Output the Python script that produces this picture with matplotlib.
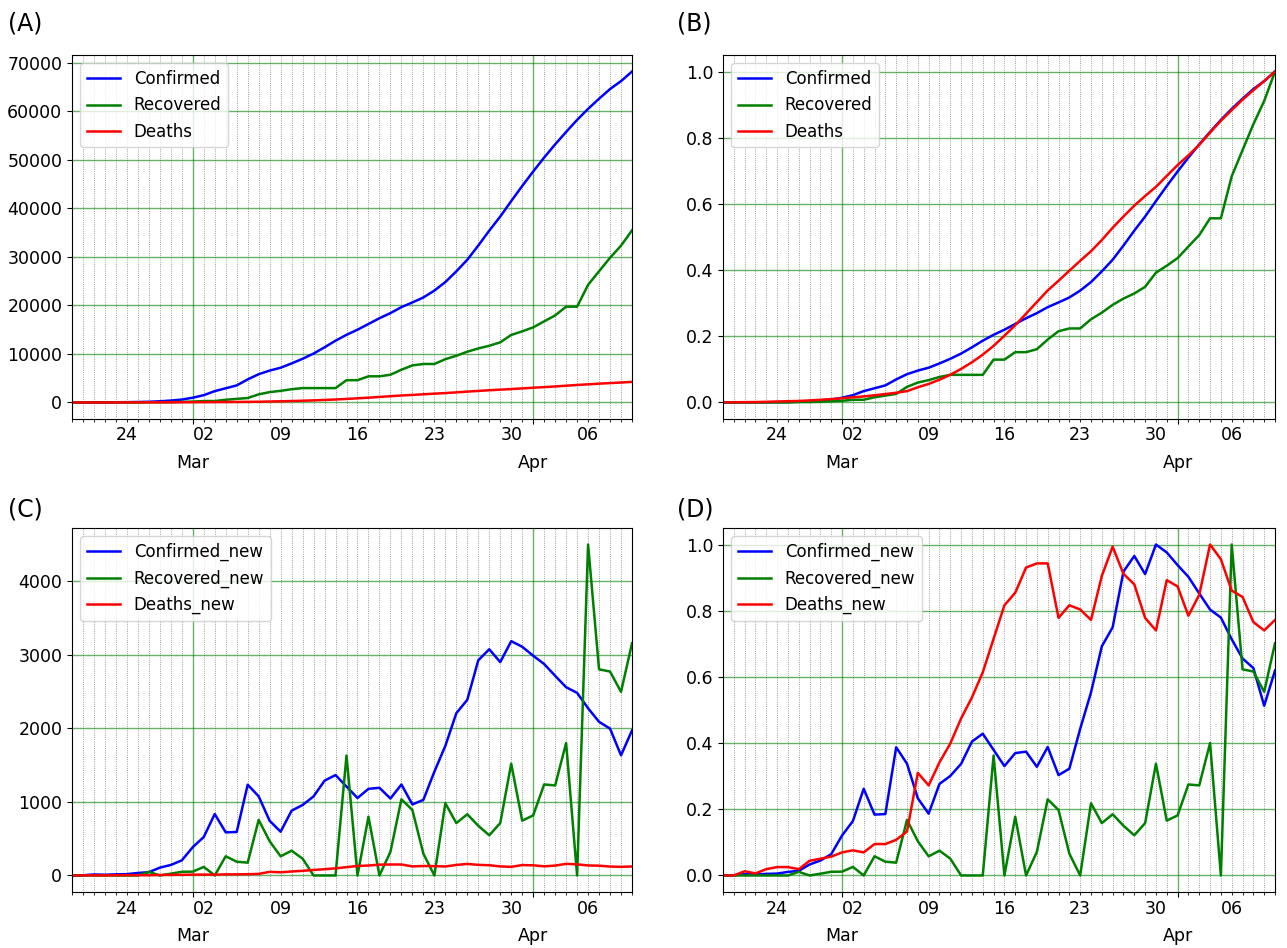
import numpy as np
import pandas as pd
import matplotlib
matplotlib.use('Agg')
import matplotlib.pyplot as plt
import matplotlib.dates as mdates
import matplotlib.ticker as ticker

# daily cumulative counts, 2020-02-19 .. 2020-04-10
dates = pd.date_range('2020-02-19', '2020-04-10', freq='D')

confirmed = [2, 5, 18, 28, 43, 61, 95, 139, 245, 388, 593,
             978, 1501, 2336, 2922, 3513, 4747, 5823, 6566, 7161, 8042,
             9000, 10075, 11364, 12729, 13938, 14991, 16169, 17361, 18407, 19644,
             20610, 21638, 23049, 24811, 27017, 29406, 32332, 35408, 38309, 41495,
             44605,
             47593, 50468, 53183, 55743, 58226, 60500, 62589, 64586, 66220, 68192]
recovered = [0, 0, 0, 0, 0, 0, 0, 49, 49, 73, 123,
             175, 291, 291, 552, 739, 913, 1669, 2134, 2394, 2731,
             2959, 2959, 2959, 2959, 4590, 4590, 5389, 5389, 5710, 6745,
             7635, 7931, 7931, 8913, 9625, 10457, 11133, 11679, 12391, 13911,
             14656,
             15473, 16711, 17935, 19736, 19736, 24236, 27039, 29812, 32309, 35465]
deaths = [2, 2, 4, 5, 8, 12, 16, 19, 26, 34, 43,
          54, 66, 77, 92, 107, 124, 145, 194, 237, 291,
          354, 429, 514, 611, 724, 853, 988, 1135, 1284, 1433,
          1556, 1685, 1812, 1934, 2077, 2234, 2378, 2517, 2640, 2757,
          2898,
          3036, 3160, 3294, 3452, 3603, 3739, 3872, 3993, 4110, 4232]

df = pd.DataFrame({'Confirmed': confirmed, 'Recovered': recovered,
                   'Deaths': deaths}, index=dates)
new = df.diff().fillna(0)
new.columns = [c + '_new' for c in df.columns]

colors = ['blue', 'green', 'red']
plt.rcParams['font.size'] = 12.5

W, H = 1287, 948
fig = plt.figure(figsize=(W / 100, H / 100), dpi=100)


def day_fmt(x, pos):
    d = mdates.num2date(x)
    return d.strftime('%d') if d.weekday() == 0 else ''


def panel(box, data, tag, tag_x, tag_y):
    left, top, right, bottom = box
    ax = fig.add_axes([left / W, 1 - bottom / H, (right - left) / W, (bottom - top) / H])
    x = data.index.to_pydatetime()
    for col, c in zip(data.columns, colors):
        ax.plot(x, data[col].values, color=c, lw=1.8, label=col)
    ax.set_xlim(x[0], x[-1])
    ax.xaxis.set_major_locator(mdates.MonthLocator())
    ax.xaxis.set_major_formatter(mdates.DateFormatter('%b'))
    ax.xaxis.set_minor_locator(mdates.DayLocator())
    ax.xaxis.set_minor_formatter(ticker.FuncFormatter(day_fmt))
    ax.tick_params(axis='x', which='major', pad=22)
    ax.grid(which='major', color='green', alpha=0.6, lw=1)
    ax.grid(which='minor', axis='x', color='k', ls=':', lw=0.6, alpha=0.5)
    ax.legend(loc='upper left', fontsize=12)
    fig.text(tag_x / W, 1 - tag_y / H, tag, fontsize=17, va='center')
    return ax


panel((72, 55, 632, 419), df, '(A)', 8, 23)
panel((723, 55, 1275, 419), df / df.max(), '(B)', 677, 23)
panel((72, 528, 632, 892), new, '(C)', 8, 510)
panel((723, 528, 1275, 892), new / new.max(), '(D)', 677, 510)

fig.savefig('out.png', dpi=100)
